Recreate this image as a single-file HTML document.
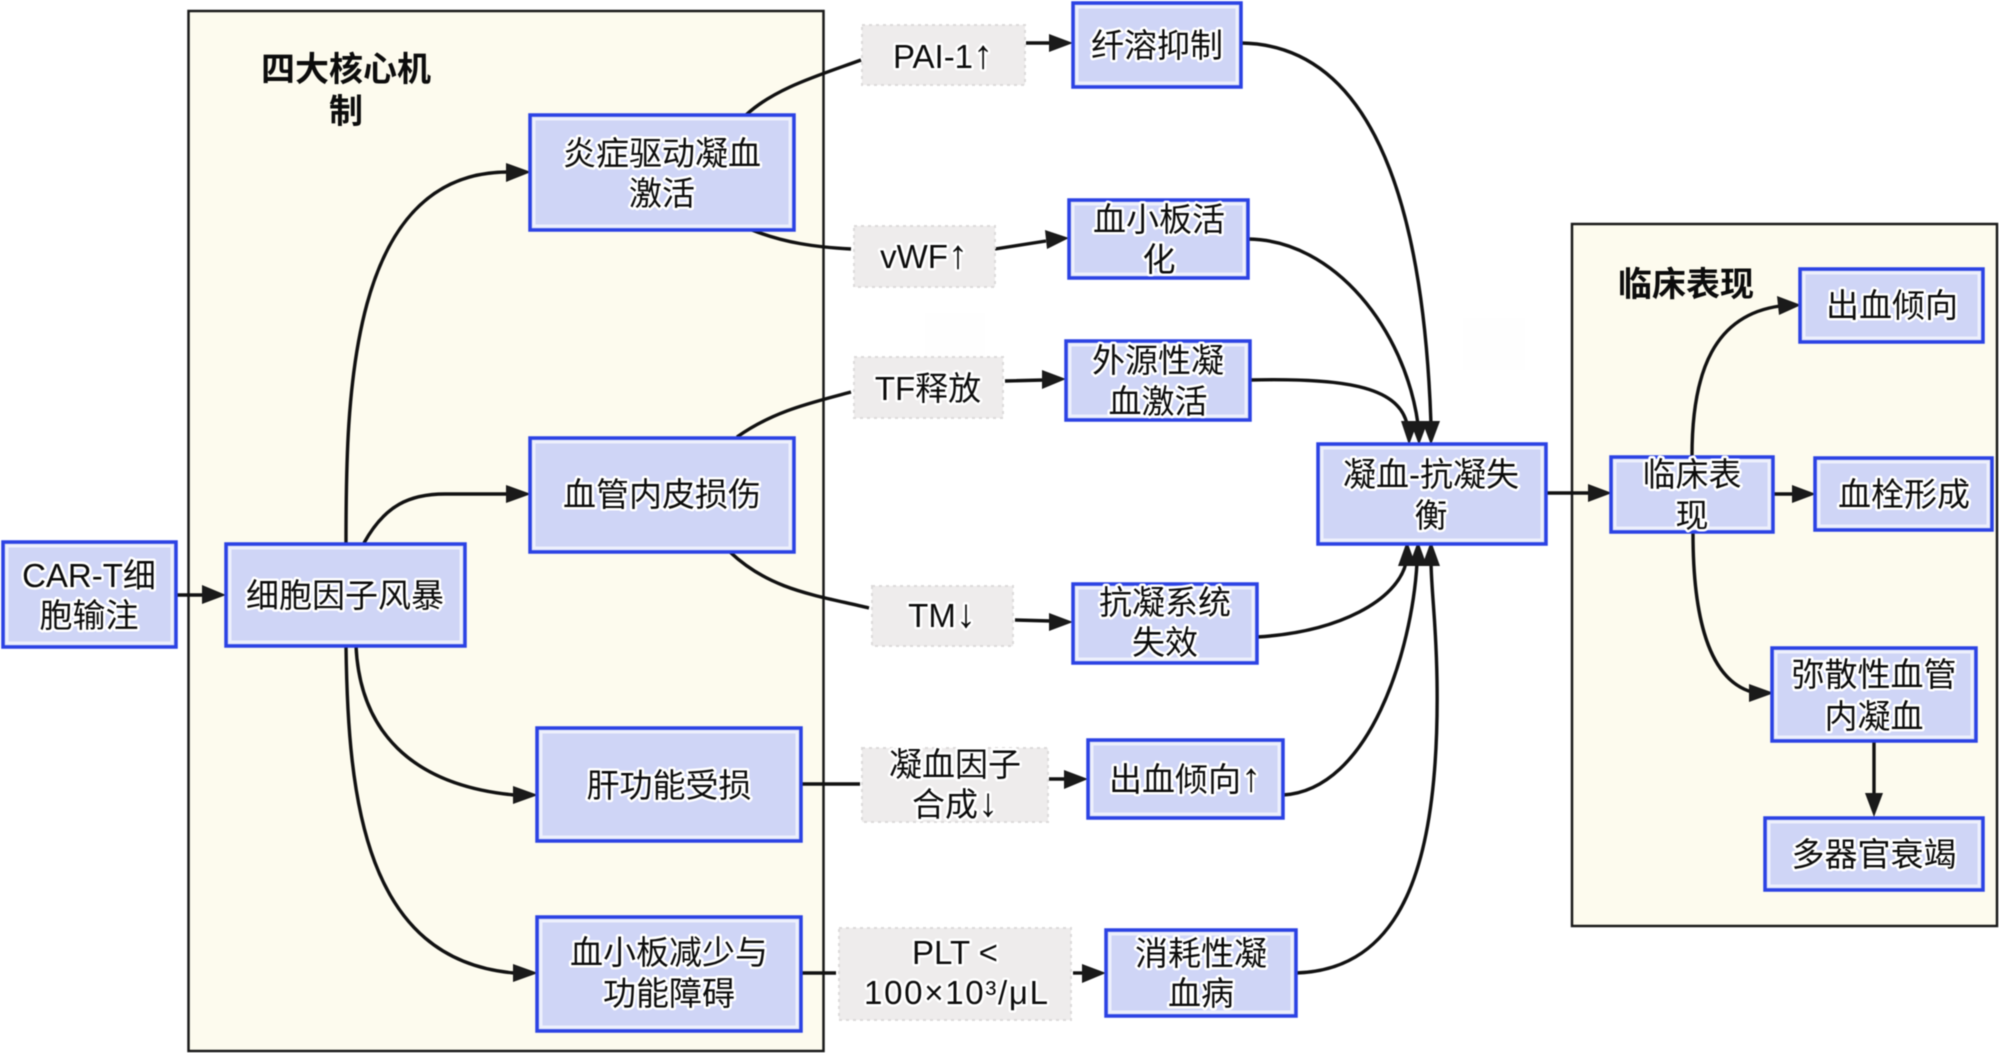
<!DOCTYPE html>
<html><head><meta charset="utf-8"><style>
html,body{margin:0;padding:0;background:#fff}
svg{display:block;filter:blur(0.4px)}
text{font-family:"Liberation Sans","Noto Sans CJK SC",sans-serif;font-size:33px;fill:#0c0c0c;text-anchor:middle;stroke:#fff;stroke-width:5px;stroke-linejoin:round;paint-order:stroke}
tspan{font-size:40px}
.t{font-weight:bold;font-size:34px;stroke:#fdfbee}
.n{fill:#cfd5f6;stroke:#2b42e4;stroke-width:3.5}
.i{fill:none;stroke:#eef0fc;stroke-width:3}
.l{fill:#eeecec;stroke:#dcdada;stroke-width:2;stroke-dasharray:3 4}
.c{fill:#fdfbee;stroke:#1a1a1a;stroke-width:2.5}
.e{fill:none;stroke:#111;stroke-width:3.4}
.a{fill:#1a1a1a;stroke:none}
</style></head><body>
<svg width="1999" height="1053" viewBox="0 0 1999 1053" xmlns="http://www.w3.org/2000/svg">
<rect width="1999" height="1053" fill="#fff"/>
<rect x="925" y="313" width="60" height="55" fill="#fefefe"/>
<rect x="1463" y="318" width="62" height="52" fill="#fefefe"/>
<rect class="c" x="188.500" y="11" width="635" height="1040"/>
<rect class="c" x="1572" y="224" width="425" height="702"/>

<!-- edges -->
<path class="e" d="M176,595 L204,595"/>
<path class="e" d="M346,543 C346,400 348,172 508,172"/>
<path class="e" d="M364,543 C385,505 410,494 445,494 L508,494"/>
<path class="e" d="M356,646 C360,730 410,785 514,795"/>
<path class="e" d="M346,646 C348,800 365,960 514,973"/>
<path class="e" d="M746,115 C775,88 820,75 861,60"/>
<path class="e" d="M1026,43 L1050,43"/>
<path class="e" d="M752,230 C785,243 815,247 851,249"/>
<path class="e" d="M995,249 L1046,241"/>
<path class="e" d="M737,437 C775,410 815,402 851,392"/>
<path class="e" d="M1005,381 L1044,380"/>
<path class="e" d="M730,552 C770,590 815,595 869,608"/>
<path class="e" d="M1015,620 L1051,621"/>
<path class="e" d="M801,784 L860,784"/>
<path class="e" d="M1049,779 L1066,779"/>
<path class="e" d="M801,973 L836,973"/>
<path class="e" d="M1073,973 L1084,973"/>
<path class="e" d="M1241,43 C1390,45 1425,250 1431,424"/>
<path class="e" d="M1248,239 C1335,240 1405,330 1418,424"/>
<path class="e" d="M1250,380 C1340,378 1398,385 1407,424"/>
<path class="e" d="M1257,637 C1340,632 1397,600 1406,563"/>
<path class="e" d="M1283,795 C1370,790 1412,650 1417,563"/>
<path class="e" d="M1296,973 C1400,970 1440,870 1437,680 C1436,620 1432,600 1431,563"/>
<path class="e" d="M1546,493 L1590,493"/>
<path class="e" d="M1774,494 L1794,494"/>
<path class="e" d="M1692,456 C1692,370 1715,315 1780,306"/>
<path class="e" d="M1693,533 C1693,620 1710,680 1752,692"/>
<path class="e" d="M1874,741 L1874,795"/>

<!-- arrowheads -->
<polygon class="a" points="226,595 202,585 202,604"/>
<polygon class="a" points="531,172 506,163 506,182"/>
<polygon class="a" points="531,494 506,485 506,503"/>
<polygon class="a" points="538,795 513,786 513,804"/>
<polygon class="a" points="538,973 513,964 513,982"/>
<polygon class="a" points="1073,43 1049,34 1049,52"/>
<polygon class="a" points="1069,238 1045,230 1047,249"/>
<polygon class="a" points="1066,379 1042,370 1042,389"/>
<polygon class="a" points="1073,622 1049,613 1049,631"/>
<polygon class="a" points="1088,779 1064,770 1064,789"/>
<polygon class="a" points="1106,973 1082,964 1082,983"/>
<polygon class="a" points="1409,445 1401,421 1418,421"/>
<polygon class="a" points="1419,445 1410,421 1428,421"/>
<polygon class="a" points="1431,445 1422,421 1440,421"/>
<polygon class="a" points="1407,541 1398,566 1416,566"/>
<polygon class="a" points="1418,541 1409,566 1427,566"/>
<polygon class="a" points="1431,541 1422,566 1440,566"/>
<polygon class="a" points="1612,493 1588,484 1588,502"/>
<polygon class="a" points="1816,494 1792,485 1792,503"/>
<polygon class="a" points="1801,305 1777,296 1779,315"/>
<polygon class="a" points="1774,693 1749,684 1749,702"/>
<polygon class="a" points="1874,817 1865,793 1883,793"/>

<!-- nodes -->
<rect class="n" x="3" y="542" width="173" height="105"/><rect class="i" x="7" y="546" width="165" height="97"/>
<rect class="n" x="226" y="544" width="239" height="102"/><rect class="i" x="230" y="548" width="231" height="94"/>
<rect class="n" x="530" y="115" width="264" height="115"/><rect class="i" x="534" y="119" width="256" height="107"/>
<rect class="n" x="530" y="438" width="264" height="114"/><rect class="i" x="534" y="442" width="256" height="106"/>
<rect class="n" x="537" y="728" width="264" height="113"/><rect class="i" x="541" y="732" width="256" height="105"/>
<rect class="n" x="537" y="917" width="264" height="114"/><rect class="i" x="541" y="921" width="256" height="106"/>
<rect class="n" x="1073" y="3" width="168" height="84"/><rect class="i" x="1077" y="7" width="160" height="76"/>
<rect class="n" x="1069" y="200" width="179" height="78"/><rect class="i" x="1073" y="204" width="171" height="70"/>
<rect class="n" x="1066" y="341" width="184" height="79"/><rect class="i" x="1070" y="345" width="176" height="71"/>
<rect class="n" x="1073" y="584" width="184" height="79"/><rect class="i" x="1077" y="588" width="176" height="71"/>
<rect class="n" x="1088" y="740" width="195" height="78"/><rect class="i" x="1092" y="744" width="187" height="70"/>
<rect class="n" x="1106" y="930" width="190" height="86"/><rect class="i" x="1110" y="934" width="182" height="78"/>
<rect class="n" x="1318" y="444" width="228" height="100"/><rect class="i" x="1322" y="448" width="220" height="92"/>
<rect class="n" x="1611" y="457" width="162" height="75"/><rect class="i" x="1615" y="461" width="154" height="67"/>
<rect class="n" x="1815" y="458" width="177" height="72"/><rect class="i" x="1819" y="462" width="169" height="64"/>
<rect class="n" x="1800" y="269" width="183" height="73"/><rect class="i" x="1804" y="273" width="175" height="65"/>
<rect class="n" x="1772" y="648" width="204" height="93"/><rect class="i" x="1776" y="652" width="196" height="85"/>
<rect class="n" x="1765" y="818" width="218" height="72"/><rect class="i" x="1769" y="822" width="210" height="64"/>

<!-- edge labels -->
<rect class="l" x="862" y="25" width="163" height="60"/>
<rect class="l" x="854" y="226" width="141" height="61"/>
<rect class="l" x="854" y="357" width="149" height="61"/>
<rect class="l" x="872" y="586" width="141" height="60"/>
<rect class="l" x="862" y="748" width="186" height="74"/>
<rect class="l" x="839" y="928" width="232" height="92"/>

<!-- titles -->
<text class="t" x="346" y="81">四大核心机</text>
<text class="t" x="346" y="123">制</text>
<text class="t" x="1686" y="296">临床表现</text>

<!-- node text -->
<text x="89" y="587">CAR-T细</text><text x="89" y="627">胞输注</text>
<text x="345" y="607">细胞因子风暴</text>
<text x="662" y="165">炎症驱动凝血</text><text x="662" y="205">激活</text>
<text x="662" y="506">血管内皮损伤</text>
<text x="669" y="797">肝功能受损</text>
<text x="669" y="964">血小板减少与</text><text x="669" y="1005">功能障碍</text>
<text x="1157" y="57">纤溶抑制</text>
<text x="1159" y="231">血小板活</text><text x="1159" y="271">化</text>
<text x="1158" y="372">外源性凝</text><text x="1158" y="413">血激活</text>
<text x="1165" y="614">抗凝系统</text><text x="1165" y="654">失效</text>
<text x="1185" y="791">出血倾向<tspan>↑</tspan></text>
<text x="1201" y="965">消耗性凝</text><text x="1201" y="1005">血病</text>
<text x="1431" y="486">凝血-抗凝失</text><text x="1431" y="527">衡</text>
<text x="1692" y="486">临床表</text><text x="1692" y="527">现</text>
<text x="1904" y="506">血栓形成</text>
<text x="1892" y="317">出血倾向</text>
<text x="1874" y="686">弥散性血管</text><text x="1874" y="728">内凝血</text>
<text x="1874" y="866">多器官衰竭</text>

<!-- edge label text -->
<text x="943" y="68">PAI-1<tspan>↑</tspan></text>
<text x="924" y="268">vWF<tspan>↑</tspan></text>
<text x="928" y="400">TF释放</text>
<text x="942" y="627">TM<tspan>↓</tspan></text>
<text x="955" y="776">凝血因子</text><text x="955" y="816">合成<tspan>↓</tspan></text>
<text x="955" y="964">PLT &lt;</text><text x="956" y="1004" textLength="184">100×10³/μL</text>
</svg>
</body></html>
